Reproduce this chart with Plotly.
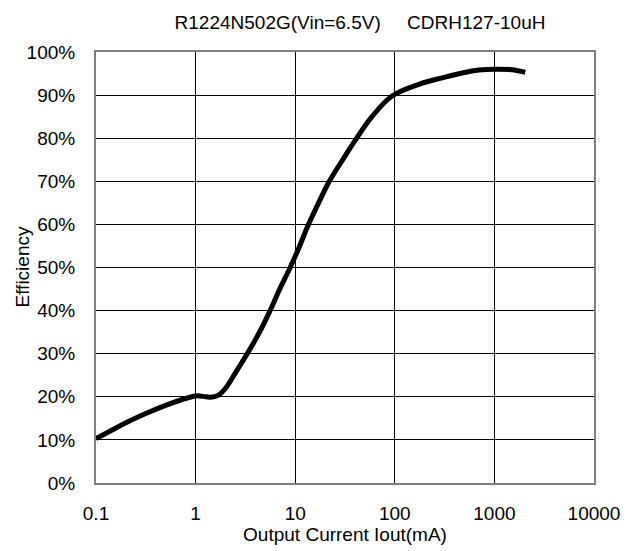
import plotly.graph_objects as go

# efficiency curve
iout_ma = [0.1, 0.2, 0.3, 0.5, 0.7, 1.0, 1.2, 1.4, 1.7, 2.0, 2.5, 3.4, 4.5, 5.6, 7.0,
           8.9, 11, 13.3, 17.6, 22, 30, 40, 59, 94, 180, 300, 490, 700, 1000, 1500, 2040]
efficiency = [10.3, 14.0, 15.9, 18.0, 19.2, 20.2, 20.1, 19.9, 20.4, 22.0, 25.5, 30.5, 35.5, 40, 45,
              50, 54.8, 59.5, 65.5, 70, 75, 79.5, 85, 89.8, 92.6, 94, 95.2, 95.8, 96.0, 95.9, 95.3]

x_ticks = [0.1, 1, 10, 100, 1000, 10000]
x_labels = ["0.1", "1", "10", "100", "1000", "10000"]
y_ticks = list(range(0, 101, 10))
y_labels = [f"{v}%" for v in y_ticks]

font = "Liberation Sans, Arial, sans-serif"
fs = 19

# page body has an 8px margin, so the figure is a bit smaller than the window
W, H = 631, 543
L, R, T, B = 88, 45, 44, 68

fig = go.Figure(go.Scatter(
    x=iout_ma, y=efficiency, mode="lines",
    line=dict(color="black", width=5, shape="spline", smoothing=1.0),
    hoverinfo="x+y"))

fig.update_layout(
    width=W, height=H,
    margin=dict(l=L, r=R, t=T, b=B),
    paper_bgcolor="white", plot_bgcolor="white",
    font=dict(family=font, size=fs, color="black"),
    showlegend=False,
    title=dict(text="R1224N502G(Vin=6.5V)\u00a0\u00a0\u00a0\u00a0\u00a0CDRH127-10uH",
               x=352 / W, xanchor="center", y=1 - 14 / H, yanchor="middle",
               font=dict(size=fs)),
    annotations=[dict(text="Efficiency", xref="paper", yref="paper",
                      x=(14 - L) / (W - L - R), y=0.5, textangle=-90,
                      showarrow=False, xanchor="center", yanchor="middle",
                      font=dict(size=fs))],
)
fig.update_xaxes(
    type="log", range=[-1, 4],
    tickvals=x_ticks, ticktext=x_labels,
    showgrid=True, gridcolor="black", gridwidth=1,
    showline=True, linecolor="#808080", linewidth=2, mirror=True,
    ticks="", ticklabelstandoff=12,
    title=dict(text="Output Current Iout(mA)", standoff=0, font=dict(size=fs)),
    zeroline=False)
fig.update_yaxes(
    range=[0, 100],
    tickvals=y_ticks, ticktext=y_labels,
    showgrid=True, gridcolor="black", gridwidth=1,
    showline=True, linecolor="#808080", linewidth=2, mirror=True,
    ticks="", ticklabelstandoff=15,
    zeroline=False)

fig.write_html("out.html")
